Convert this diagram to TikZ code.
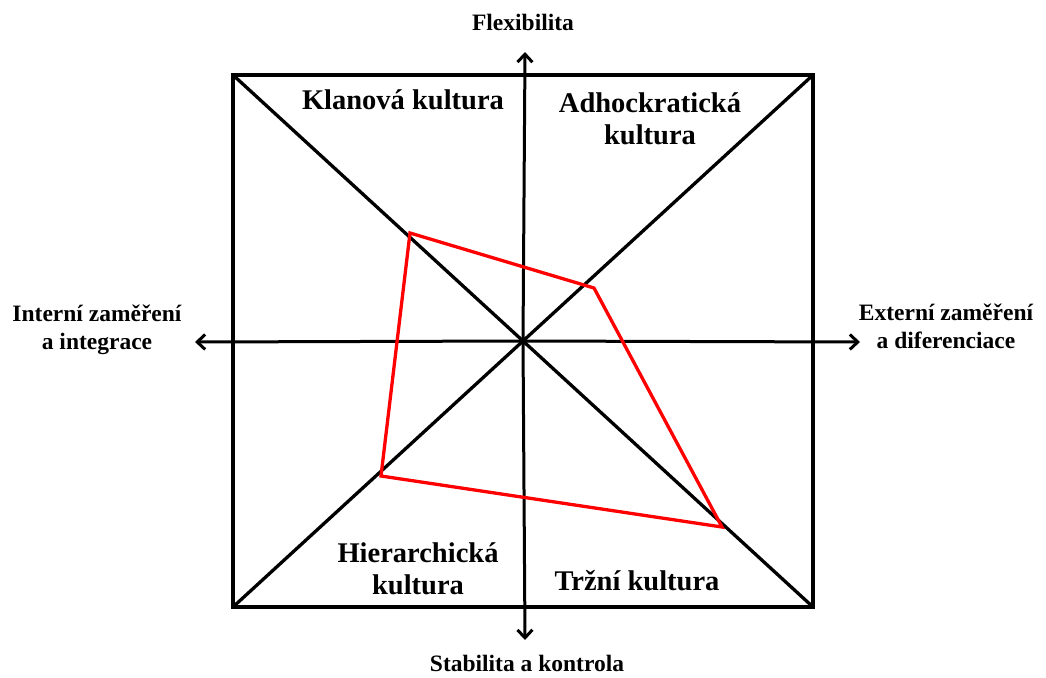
\documentclass[tikz,border=0pt]{standalone}
\usepackage{fontspec}
\setmainfont{Liberation Serif}
\usetikzlibrary{arrows.meta}
\begin{document}
\begin{tikzpicture}[x=1pt,y=-1pt,
  frame/.style={line width=3.8pt,line cap=round,line join=miter},
  diag/.style={line width=3.3pt},
  axis/.style={line width=3pt,-{Straight Barb[length=8pt,width=15pt,line width=3pt]}},
  profile/.style={draw=red,line width=3.3pt,line join=miter},
  quad/.style={font=\bfseries\fontsize{28.5}{32}\selectfont,align=center,inner sep=0pt},
  axlab/.style={font=\bfseries\fontsize{23.5}{28}\selectfont,align=center,inner sep=0pt}]
\useasboundingbox (0,0) rectangle (1046,677);
\coordinate (tl) at (233,75);
\coordinate (tr) at (813,75);
\coordinate (br) at (813,607);
\coordinate (bl) at (233,607);
\coordinate (c) at (523,341);
\coordinate (ys) at (525,640);
\coordinate (ye) at (525,52);
\coordinate (xs) at (860,342);
\coordinate (xe) at (195,342);
\draw[frame] (tl) -- (tr) -- (br) -- (bl) -- cycle;
\draw[diag] (tl) -- (br);
\draw[diag] (bl) -- (tr);
\draw[axis] (c) -- (ye);
\draw[axis] (c) -- (ys);
\draw[axis] (c) -- (xs);
\draw[axis] (c) -- (xe);
\coordinate (p1) at (410,233);
\coordinate (p2) at (594,288);
\coordinate (p3) at (722,527);
\coordinate (p4) at (381,476);
\draw[profile] (p1) -- (p2) -- (p3) -- (p4) -- cycle;
\node[axlab] (flex) at (523,22) {Flexibilita};
\node[axlab] (stab) at (527,663) {Stabilita a kontrola};
\node[axlab] (int) at (97,330) {Interní zaměření\\a integrace};
\node[axlab] (ext) at (946,326) {Externí zaměření\\a diferenciace};
\node[quad] (klan) at (403,100) {Klanová kultura};
\node[quad] (adh) at (650,119) {Adhockratická\\kultura};
\node[quad] (hier) at (418,569) {Hierarchická\\kultura};
\node[quad] (trz) at (637,581) {Tržní kultura};
\end{tikzpicture}
\end{document}
